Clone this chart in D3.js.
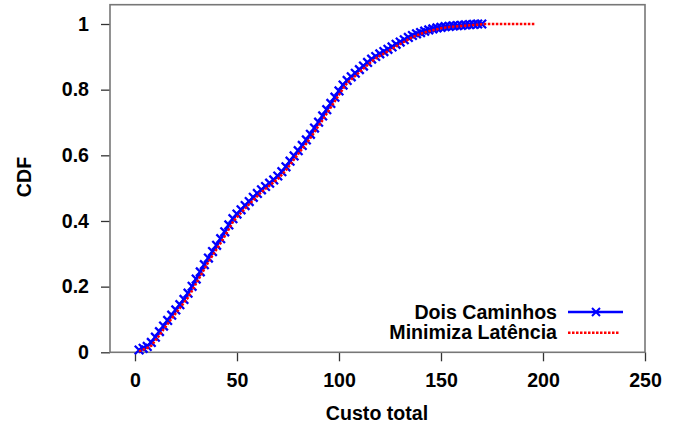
<!DOCTYPE html>
<html>
<head>
<meta charset="utf-8">
<script src="https://cdn.jsdelivr.net/npm/d3@7"></script>
<style>
  html, body { margin: 0; padding: 0; background: #fff; }
  svg text { font-family: "Liberation Sans", Arial, sans-serif; font-weight: bold; fill: #000; }
</style>
</head>
<body>
<svg id="chart" width="679" height="429"></svg>
<script>
// ---------------- data ----------------
const xTicks = [0, 50, 100, 150, 200, 250];
const yTicks = [0, 0.2, 0.4, 0.6, 0.8, 1];
const xLabel = "Custo total";
const yLabel = "CDF";
const seriesNames = ["Dois Caminhos", "Minimiza Latência"];

// Dois Caminhos: custo (x) and CDF (y)
const custoDois = [2,4,6,8,10,12,14,16,18,20,22,24,26,28,30,32,34,36,38,40,42,44,46,48,50,52,54,56,58,60,62,64,66,68,70,72,74,76,78,80,82,84,86,88,90,92,94,96,98,100,102,104,106,108,110,112,114,116,118,120,122,124,126,128,130,132,134,136,138,140,142,144,146,148,150,152,154,156,158,160,162,164,166,168,170];
const cdfDois = [0.007,0.012,0.018,0.030,0.046,0.063,0.080,0.097,0.113,0.129,0.145,0.161,0.180,0.201,0.223,0.245,0.267,0.287,0.307,0.326,0.346,0.367,0.388,0.407,0.421,0.434,0.447,0.459,0.472,0.484,0.495,0.505,0.515,0.525,0.537,0.550,0.565,0.582,0.598,0.614,0.630,0.647,0.664,0.683,0.701,0.720,0.739,0.758,0.777,0.796,0.814,0.828,0.839,0.850,0.861,0.872,0.883,0.893,0.901,0.909,0.916,0.923,0.930,0.938,0.945,0.952,0.959,0.965,0.970,0.974,0.978,0.982,0.985,0.988,0.990,0.992,0.993,0.994,0.995,0.996,0.997,0.998,0.999,1.000,1.000];

// Minimiza Latência: custo (x) and CDF (y)
const custoMinLat = [2,4,6,8,10,12,14,16,18,20,22,24,26,28,30,32,34,36,38,40,42,44,46,48,50,52,54,56,58,60,62,64,66,68,70,72,74,76,78,80,82,84,86,88,90,92,94,96,98,100,102,104,106,108,110,112,114,116,118,120,122,124,126,128,130,132,134,136,138,140,142,144,146,148,150,152,154,156,158,160,162,164,166,168,170,172,176,180,184,188,192,196];
const cdfMinLat = [0.003,0.008,0.013,0.020,0.036,0.052,0.070,0.086,0.103,0.119,0.135,0.151,0.167,0.188,0.210,0.232,0.254,0.275,0.295,0.314,0.333,0.354,0.375,0.397,0.412,0.425,0.438,0.451,0.463,0.476,0.488,0.498,0.508,0.518,0.528,0.541,0.555,0.571,0.588,0.604,0.620,0.636,0.653,0.671,0.690,0.708,0.727,0.746,0.765,0.784,0.803,0.820,0.831,0.842,0.853,0.864,0.875,0.886,0.895,0.903,0.910,0.917,0.924,0.932,0.939,0.946,0.953,0.960,0.965,0.970,0.974,0.978,0.981,0.984,0.987,0.989,0.991,0.992,0.993,0.994,0.995,0.996,0.997,0.998,0.999,1.000,1.000,1.000,1.000,1.000,1.000,1.000];

// ---------------- layout ----------------
const svg = d3.select("#chart");
const box = { left: 110, right: 645, top: 4.7, bottom: 352.3 };
const x = d3.scaleLinear().domain([0, 250]).range([135, 645]);
const y = d3.scaleLinear().domain([0, 1]).range([352.3, 24]);
const FS = 19.6;

// axes (ticks outside)
const xAxis = d3.axisBottom(x).tickValues(xTicks).tickSize(9).tickSizeOuter(0).tickPadding(11.5).tickFormat(d3.format("d"));
const yAxis = d3.axisLeft(y).tickValues(yTicks).tickSize(9).tickSizeOuter(0).tickPadding(12).tickFormat(d => d === 0 || d === 1 ? String(d) : d3.format(".1f")(d));

const gx = svg.append("g").attr("transform", `translate(0,${box.bottom})`).call(xAxis);
const gy = svg.append("g").attr("transform", `translate(${box.left},0)`).call(yAxis);
[gx, gy].forEach(g => {
  g.select(".domain").remove();
  g.selectAll(".tick line").attr("stroke", "#333").attr("stroke-width", 1.3);
  g.selectAll(".tick text").attr("font-size", FS).attr("fill", "#000")
    .style("font-family", '"Liberation Sans", Arial, sans-serif').style("font-weight", "bold");
});

// border box
svg.append("rect")
  .attr("x", box.left).attr("y", box.top)
  .attr("width", box.right - box.left).attr("height", box.bottom - box.top)
  .attr("fill", "none").attr("stroke", "#777").attr("stroke-width", 1.6);

// axis titles
svg.append("text").attr("x", 377).attr("y", 420).attr("text-anchor", "middle").attr("font-size", FS).text(xLabel);
svg.append("text").attr("transform", "translate(30.5,177) rotate(-90)").attr("text-anchor", "middle").attr("font-size", FS).text(yLabel);

// ---------------- series ----------------
const plot = svg.append("g");
const dois = custoDois.map((c, i) => [c, cdfDois[i]]);
const minLat = custoMinLat.map((c, i) => [c, cdfMinLat[i]]);
const line = d3.line().x(d => x(d[0])).y(d => y(d[1]));

const blue = "#0000ff", red = "#ff0000";
const crossPath = s => `M${-s},${-s}L${s},${s}M${-s},${s}L${s},${-s}`;

plot.append("path").datum(dois).attr("d", line)
  .attr("fill", "none").attr("stroke", blue).attr("stroke-width", 3);
plot.selectAll(".mk").data(dois).join("path").attr("class", "mk")
  .attr("transform", d => `translate(${x(d[0])},${y(d[1])})`)
  .attr("d", crossPath(4.3)).attr("stroke", blue).attr("stroke-width", 2.3).attr("fill", "none");

plot.append("path").datum(minLat).attr("d", line)
  .attr("fill", "none").attr("stroke", red).attr("stroke-width", 2.5)
  .attr("stroke-dasharray", "2.5,1.5");

// ---------------- legend ----------------
const leg = svg.append("g");
const legY = [312, 332.7];
seriesNames.forEach((name, i) => {
  leg.append("text").attr("x", 557).attr("y", legY[i] + 6.7).attr("text-anchor", "end").attr("font-size", FS).text(name);
});
leg.append("line").attr("x1", 568).attr("x2", 623).attr("y1", legY[0]).attr("y2", legY[0])
  .attr("stroke", blue).attr("stroke-width", 2.5);
leg.append("path").attr("transform", `translate(596,${legY[0]})`).attr("d", crossPath(4))
  .attr("stroke", blue).attr("stroke-width", 2).attr("fill", "none");
leg.append("line").attr("x1", 568).attr("x2", 620).attr("y1", legY[1]).attr("y2", legY[1])
  .attr("stroke", red).attr("stroke-width", 2.5).attr("stroke-dasharray", "2.5,1.5");
</script>
</body>
</html>
